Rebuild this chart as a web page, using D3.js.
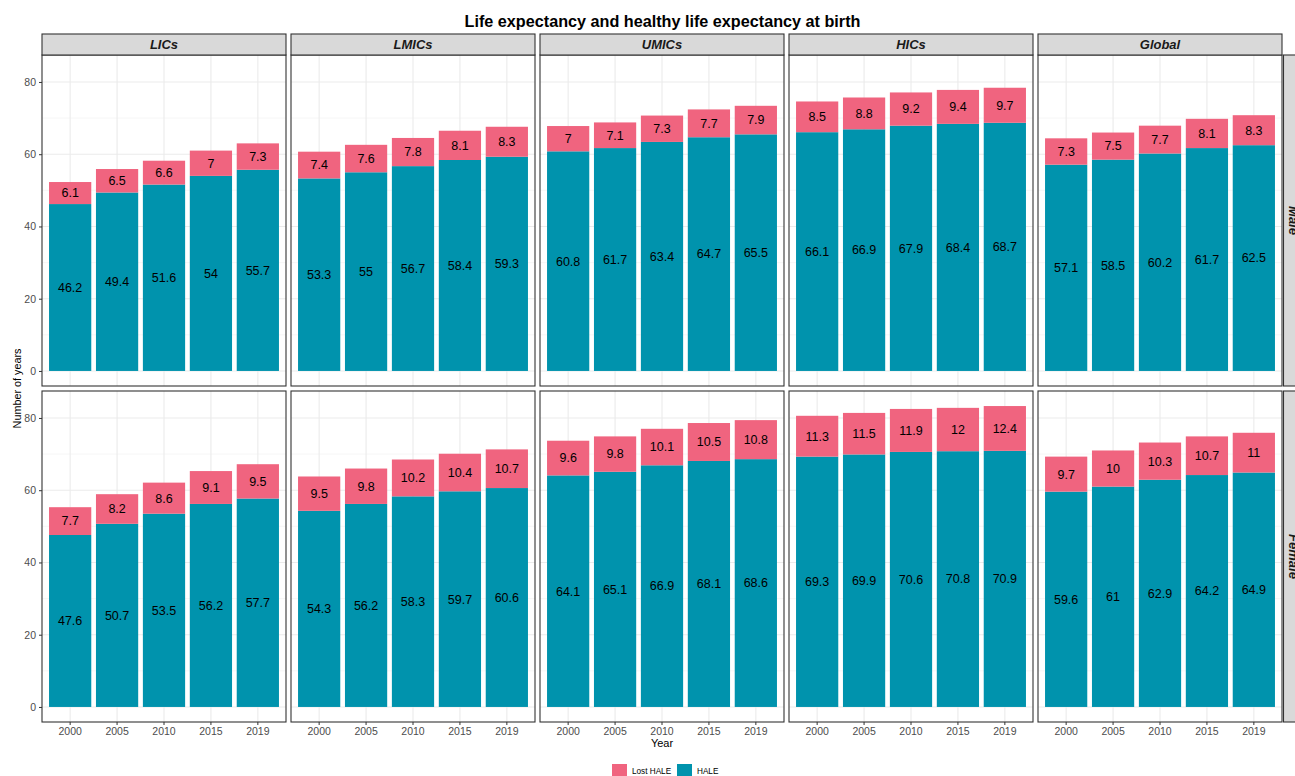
<!DOCTYPE html>
<html><head><meta charset="utf-8">
<script src="https://cdn.jsdelivr.net/npm/d3@7"></script>
<style>
html,body{margin:0;padding:0;background:#fff;}
svg{display:block;font-family:"Liberation Sans",Arial,Helvetica,sans-serif;}
</style></head>
<body>
<svg id="chart" width="1295" height="776"></svg>
<script>
// ---- data ----
const years = ["2000","2005","2010","2015","2019"];
const regions = ["LICs","LMICs","UMICs","HICs","Global"];
const sexes = ["Male","Female"];
const seriesNames = ["Lost HALE","HALE"];
const yTicks = [0,20,40,60,80];
const yMinor = [10,30,50,70];

const maleHALE = {
  LICs:[46.2,49.4,51.6,54,55.7],
  LMICs:[53.3,55,56.7,58.4,59.3],
  UMICs:[60.8,61.7,63.4,64.7,65.5],
  HICs:[66.1,66.9,67.9,68.4,68.7],
  Global:[57.1,58.5,60.2,61.7,62.5]
};
const maleLost = {
  LICs:[6.1,6.5,6.6,7,7.3],
  LMICs:[7.4,7.6,7.8,8.1,8.3],
  UMICs:[7,7.1,7.3,7.7,7.9],
  HICs:[8.5,8.8,9.2,9.4,9.7],
  Global:[7.3,7.5,7.7,8.1,8.3]
};
const femaleHALE = {
  LICs:[47.6,50.7,53.5,56.2,57.7],
  LMICs:[54.3,56.2,58.3,59.7,60.6],
  UMICs:[64.1,65.1,66.9,68.1,68.6],
  HICs:[69.3,69.9,70.6,70.8,70.9],
  Global:[59.6,61,62.9,64.2,64.9]
};
const femaleLost = {
  LICs:[7.7,8.2,8.6,9.1,9.5],
  LMICs:[9.5,9.8,10.2,10.4,10.7],
  UMICs:[9.6,9.8,10.1,10.5,10.8],
  HICs:[11.3,11.5,11.9,12,12.4],
  Global:[9.7,10,10.3,10.7,11]
};

// ---- layout ----
const colors = {"Lost HALE":"#F0647F","HALE":"#0093AD"};
const panelW = 244, panelPitch = 249, panelX0 = 42;
const rowTops = [55, 391], panelH = 331;
const stripTop = 34, stripH = 21;

const svg = d3.select("#chart");

const hale = {Male:maleHALE, Female:femaleHALE};
const lost = {Male:maleLost, Female:femaleLost};

let maxTotal = 0;
sexes.forEach(s=>regions.forEach(r=>years.forEach((y,i)=>{
  maxTotal = Math.max(maxTotal, hale[s][r][i]+lost[s][r][i]);
})));
const pad = maxTotal*0.05;

const x = d3.scaleBand().domain(years).range([0,panelW]).paddingInner(0.1).paddingOuter(0.15);

// title
svg.append("text").attr("x",662.5).attr("y",27.3).attr("text-anchor","middle")
  .attr("font-size","16.2px").attr("font-weight","bold").attr("fill","#000")
  .text("Life expectancy and healthy life expectancy at birth");

sexes.forEach((sex,ri)=>{
  const top = rowTops[ri];
  const y = d3.scaleLinear().domain([-pad, maxTotal+pad]).range([top+panelH, top]);

  regions.forEach((reg,ci)=>{
    const px = panelX0 + ci*panelPitch;
    const g = svg.append("g").attr("transform",`translate(${px},0)`);
    g.append("rect").attr("x",0).attr("y",top).attr("width",panelW).attr("height",panelH).attr("fill","#fff");
    g.selectAll(".mn").data(yMinor).enter().append("line")
      .attr("x1",0).attr("x2",panelW).attr("y1",d=>y(d)).attr("y2",d=>y(d))
      .attr("stroke","#F2F2F2").attr("stroke-width",0.6);
    g.selectAll(".mj").data(yTicks).enter().append("line")
      .attr("x1",0).attr("x2",panelW).attr("y1",d=>y(d)).attr("y2",d=>y(d))
      .attr("stroke","#EBEBEB").attr("stroke-width",1.1);
    g.selectAll(".vx").data(years).enter().append("line")
      .attr("x1",d=>x(d)+x.bandwidth()/2).attr("x2",d=>x(d)+x.bandwidth()/2)
      .attr("y1",top).attr("y2",top+panelH)
      .attr("stroke","#EBEBEB").attr("stroke-width",1.1);

    const rows = years.map((yr,i)=>({yr, h:hale[sex][reg][i], l:lost[sex][reg][i]}));
    g.selectAll(".bh").data(rows).enter().append("rect")
      .attr("x",d=>x(d.yr)).attr("width",x.bandwidth())
      .attr("y",d=>y(d.h)).attr("height",d=>y(0)-y(d.h))
      .attr("fill",colors["HALE"]);
    g.selectAll(".bl").data(rows).enter().append("rect")
      .attr("x",d=>x(d.yr)).attr("width",x.bandwidth())
      .attr("y",d=>y(d.h+d.l)).attr("height",d=>y(d.h)-y(d.h+d.l))
      .attr("fill",colors["Lost HALE"]);
    g.selectAll(".th").data(rows).enter().append("text")
      .attr("x",d=>x(d.yr)+x.bandwidth()/2).attr("y",d=>y(d.h/2))
      .attr("dy","0.35em").attr("text-anchor","middle").attr("font-size","12.5px").attr("fill","#000")
      .text(d=>d.h);
    g.selectAll(".tl").data(rows).enter().append("text")
      .attr("x",d=>x(d.yr)+x.bandwidth()/2).attr("y",d=>y(d.h+d.l/2))
      .attr("dy","0.35em").attr("text-anchor","middle").attr("font-size","12.5px").attr("fill","#000")
      .text(d=>d.l);
    g.append("rect").attr("x",0).attr("y",top).attr("width",panelW).attr("height",panelH)
      .attr("fill","none").attr("stroke","#333333").attr("stroke-width",1.1);

    if(ri===0){
      g.append("rect").attr("x",0).attr("y",stripTop).attr("width",panelW).attr("height",stripH)
        .attr("fill","#D9D9D9").attr("stroke","#333333").attr("stroke-width",1.1);
      g.append("text").attr("x",panelW/2).attr("y",stripTop+stripH/2).attr("dy","0.36em")
        .attr("text-anchor","middle").attr("font-size","13px").attr("font-weight","bold")
        .attr("font-style","italic").attr("fill","#1A1A1A").text(reg);
    }
    if(ci===0){
      const ax = g.append("g").call(d3.axisLeft(y).tickValues(yTicks).tickSize(3).tickPadding(3));
      ax.select(".domain").remove();
      ax.selectAll(".tick line").attr("stroke","#333333");
      ax.selectAll(".tick text").attr("fill","#4D4D4D").attr("font-size","10.5px")
        .attr("font-family","'Liberation Sans',Arial,sans-serif");
    }
    if(ri===1){
      const ax = g.append("g").attr("transform",`translate(0,${top+panelH})`)
        .call(d3.axisBottom(x).tickSize(3).tickPadding(2.5));
      ax.select(".domain").remove();
      ax.selectAll(".tick line").attr("stroke","#333333");
      ax.selectAll(".tick text").attr("fill","#4D4D4D").attr("font-size","10.5px")
        .attr("font-family","'Liberation Sans',Arial,sans-serif");
    }
  });

  // right strip (clipped by the page edge, as in the reference)
  const sx = panelX0 + 4*panelPitch + panelW + 1.5;
  svg.append("rect").attr("x",sx).attr("y",top).attr("width",stripH).attr("height",panelH)
    .attr("fill","#D9D9D9").attr("stroke","#333333").attr("stroke-width",1.1);
  svg.append("text").attr("transform",`translate(${sx+stripH/2},${top+panelH/2}) rotate(90)`)
    .attr("dy","0.36em").attr("text-anchor","middle").attr("font-size","13px").attr("font-weight","bold")
    .attr("font-style","italic").attr("fill","#1A1A1A").text(sex);
});

// axis titles
svg.append("text").attr("transform","translate(17.5,388.5) rotate(-90)").attr("text-anchor","middle")
  .attr("dy","0.35em").attr("font-size","10.8px").attr("fill","#000").text("Number of years");
svg.append("text").attr("x",662).attr("y",743).attr("text-anchor","middle").attr("dy","0.35em")
  .attr("font-size","11px").attr("fill","#000").text("Year");

// legend
const legX = [612, 677];
seriesNames.forEach((s,i)=>{
  svg.append("rect").attr("x",legX[i]).attr("y",764).attr("width",15).attr("height",15)
    .attr("fill",colors[s]);
  svg.append("text").attr("x",legX[i]+20).attr("y",771.5).attr("dy","0.35em")
    .attr("font-size","8.2px").attr("fill","#000").text(s);
});
</script>
</body></html>
